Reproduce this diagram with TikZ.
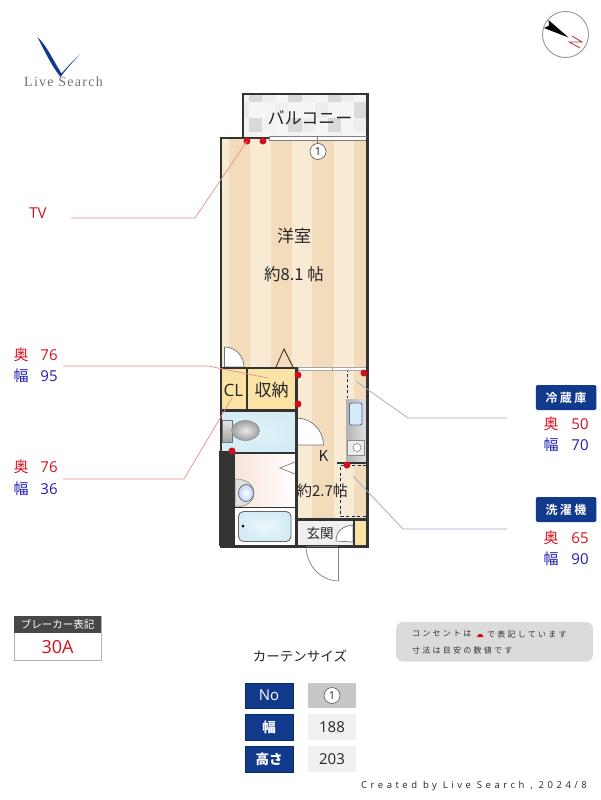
\documentclass[tikz,border=0pt]{standalone}
\usepackage{fontspec}
\setmainfont{Noto Sans CJK JP}
\newfontfamily\lat{Open Sans}
\newfontfamily\jspaced[LetterSpace=28]{Noto Sans CJK JP}
\newfontfamily\jboxed[LetterSpace=20]{Noto Sans CJK JP}[BoldFont={Noto Sans CJK JP Bold}]
\newfontfamily\foot[LetterSpace=37]{Open Sans}
\newfontfamily\logofont[LetterSpace=9]{Liberation Serif}
\definecolor{wall}{HTML}{333333}
\definecolor{stripeA}{HTML}{F3DCBC}
\definecolor{stripeB}{HTML}{F9EAD3}
\definecolor{navy}{HTML}{123A8C}
\definecolor{tred}{HTML}{D7101E}
\definecolor{tblue}{HTML}{1E1EB4}
\definecolor{dotred}{HTML}{D0101C}
\definecolor{leadred}{HTML}{E8908C}
\definecolor{leadblue}{HTML}{9AA8C0}
\definecolor{store}{HTML}{FBE3A6}
\definecolor{aqua}{HTML}{D3ECF6}
\definecolor{pinkroom}{HTML}{F8E4DA}
\tikzset{
  wallline/.style={draw=wall,line width=2.6pt},
  lab/.style={inner sep=0pt,font=\fontsize{17}{17}\selectfont,text=black!85},
  rednum/.style={inner sep=0pt,text=tred,font=\fontsize{15}{15}\selectfont},
  bluenum/.style={inner sep=0pt,text=tblue,font=\fontsize{15}{15}\selectfont},
  hdr/.style={fill=navy,rounded corners=1.5pt,text=white,inner sep=0pt,minimum width=60.5pt,minimum height=25pt,font=\jboxed\fontsize{12}{12}\selectfont\bfseries},
  cellL/.style={fill=navy,draw=navy!70!black,line width=.4pt,text=white,inner sep=0pt,minimum width=48pt,minimum height=25.5pt,font=\fontsize{13.5}{14}\selectfont\bfseries},
  cellR/.style={fill=black!6,text=black!85,inner sep=0pt,minimum width=48pt,minimum height=25.5pt,font=\fontsize{15}{15}\selectfont},
  circnum/.style={circle,draw=black!65,fill=white,line width=.6pt,minimum size=16pt,inner sep=0pt,font=\fontsize{11}{11}\selectfont,text=black!85},
  reddot/.style={fill=dotred,draw=none},
  leaderR/.style={draw=leadred,line width=.7pt},
  leaderB/.style={draw=leadblue,line width=.7pt},
  doorarc/.style={draw=black!55,fill=white,line width=.7pt},
  dashbox/.style={draw=navy!70!black,line width=1pt,dash pattern=on 3pt off 2.5pt},
  notetext/.style={anchor=west,inner sep=0pt,text=black!80,font=\jspaced\fontsize{8}{8}\selectfont},
}
\begin{document}
\begin{tikzpicture}[x=1pt,y=-1pt]
\useasboundingbox (0,0) rectangle (600,800);
\fill[white] (0,0) rectangle (600,800);

% logo
\fill[navy] (37.5,37) .. controls (47,46) and (53,60) .. (61.5,73.5) .. controls (68,66) and (74,60) .. (80,54) .. controls (74,61) and (67,68) .. (60.5,77) .. controls (51,65) and (44,50) .. (37.5,37) -- cycle;
\node[inner sep=0pt,text=black!55,font=\logofont\fontsize{14}{14}\selectfont] (logotxt) at (63.5,81.5) {Live Search};

% compass
\draw[black!45,line width=.8pt,fill=white] (565.5,34.5) circle (23);
\fill[black] (548.5,20) -- (568.5,37.5) -- (544,28) -- (549,25.5) -- cycle;
\draw[draw=red!60!black!80,line width=.8pt] (572,36) -- (582,42) -- (569,42) -- (580,48);

% balcony tiles
\fill[black!4] (243,94) rectangle (367,137);
\foreach \cx/\cw/\cy/\ch/\g in {
 249/13/94/8/15, 288/14/94/8/15, 328/13/94/8/15,
 249/13/118/14/15, 288/14/118/14/15, 328/13/118/14/15,
 354/13/102/16/14,
 262/13/94/8/7, 302/13/94/8/6, 341/13/94/8/8,
 243/6/102/16/8, 275/13/102/16/6, 315/13/102/16/7,
 262/13/118/14/5, 302/13/118/14/7, 341/13/118/14/4,
 354/13/118/14/7,
 249/13/132/5/5, 288/14/132/5/6, 328/13/132/5/5}{
  \fill[black!\g] (\cx,\cy) rectangle ++(\cw,\ch);
}
\draw[wallline] (243,138) -- (243,94) -- (367.5,94) -- (367.5,138);
\node[lab] (balcony) at (310,118) {バルコニー};

% main floor stripes
\fill[stripeB] (221,139) rectangle (366,546);
\foreach \sx/\w in {229/21,270.5/21.5,312/22,353.5/13}{
  \fill[stripeA] (\sx,139) rectangle ++(\w,407);
}

% storage and wet rooms
\fill[store] (221,369) rectangle (296,410);
\shade[inner color=aqua!70,outer color=aqua] (221,411) rectangle (296,453);
\shade[left color=pinkroom,right color=white] (235,453) rectangle (296,507);
\fill[white] (235,507) rectangle (296,546);
\fill[wall] (219,451) rectangle (235,546);
\fill[black!6] (297,520) rectangle (353,546);
\fill[store] (356,521) rectangle (366,545);

% toilet
\shade[top color=black!10,bottom color=black!35,draw=black!55,line width=.4pt] (222,420) rectangle (232,442);
\shade[inner color=black!8,outer color=black!38,draw=black!50,line width=.4pt] (245.5,430.5) ellipse (14 and 10);

% vanity
\filldraw[fill=black!12,draw=black!50,line width=.5pt] (235,479) .. controls (247,479) and (254,485) .. (254,493) .. controls (254,501) and (247,507) .. (235,507) -- cycle;
\shade[inner color=white,outer color=aqua!90!blue,draw=black!65,line width=.6pt] (246,493) ellipse (7.5 and 8.5);

% bathtub
\shade[inner color=aqua!40,outer color=aqua,draw=black!60,line width=.9pt,rounded corners=5pt] (238.5,511.5) rectangle (291,541.5);
\fill[black] (243,526) circle (1.5);

% kitchen
\shade[left color=black!30,right color=black!12] (346,399) rectangle (366,463);
\filldraw[fill=aqua,draw=black!60!blue!60,line width=.9pt,rounded corners=2pt] (349.5,403) rectangle (362,425);
\filldraw[fill=black!8,draw=black!45,line width=.5pt] (347,440.5) rectangle (364,455);
\draw[black!55,line width=.5pt,fill=white] (357,447.5) circle (4);

% dashed fridge / washer spaces
\draw[dashbox] (366,370.5) -- (347,370.5) -- (347,398);
\draw[dashbox] (366,465) -- (340.5,465) -- (340.5,516.5) -- (366,516.5);

% doors
\filldraw[doorarc] (224.5,367) -- (224.5,347) arc (-90:0:19.5 and 20) -- cycle;
\filldraw[doorarc] (296.5,445) -- (296.5,418) arc (-90:0:27 and 27) -- cycle;
\filldraw[doorarc] (353,542) -- (353,525) .. controls (343,526) and (336,531) .. (336,541) -- cycle;
\draw[draw=black!50,line width=.7pt] (338,581) -- (338,547);
\draw[draw=black!50,line width=.7pt] (338,581) .. controls (320,580) and (307,566) .. (306,547);
\draw[draw=black!60!brown,line width=.9pt] (276,367) -- (284,349) -- (293,367);
\draw[draw=black!50,line width=.7pt] (295,462) -- (280,468) -- (295,474);

% windows
\filldraw[fill=white,draw=black!50,line width=.5pt] (269,136.5) rectangle (366,140.5);
\draw[black!50,line width=.5pt] (317.5,136.5) -- (317.5,143);
\filldraw[fill=white,draw=black!35,line width=.5pt] (298,367) rectangle (366,370);
\draw[black!35,line width=.5pt] (332,367) -- (332,370);

% walls
\draw[wallline] (269,138) -- (221,138) -- (221,546.5) -- (367.5,546.5) -- (367.5,137);
\draw[draw=black!55,line width=1.5pt] (306,546.5) -- (338,546.5);
\draw[wallline] (221,368) -- (296.5,368) -- (296.5,546);
\draw[wallline] (221,410.5) -- (296.5,410.5);
\draw[wallline] (247,368) -- (247,410.5);
\draw[wallline] (221,453) -- (296.5,453);
\draw[draw=wall,line width=1.8pt] (235,507.5) -- (296.5,507.5);
\draw[wallline] (296.5,519.5) -- (367,519.5);
\draw[wallline] (337,463) -- (367,463);
\draw[draw=wall,line width=1.8pt] (354,520) -- (354,546);

% outlets
\foreach \dx/\dy in {247/141,263/141,232/451,298/375,298/404,364/373,347/465}{
  \fill[reddot] (\dx,\dy) circle (3.5);
}

% room labels
\node[circnum] (win1) at (318,151.5) {\lat 1};
\node[lab] (youshitsu) at (294,236) {洋室};
\node[lab,font=\fontsize{16.5}{17}\selectfont] (size1) at (294,274) {約8.1 帖};
\node[lab] (cl) at (233.5,390) {\lat CL};
\node[lab] (shuno) at (271.5,390) {収納};
\node[lab,font=\fontsize{15}{15}\selectfont] (k) at (323.5,456) {K};
\node[lab,font=\fontsize{15}{15}\selectfont] (size2) at (322.5,491) {約2.7帖};
\node[lab,font=\fontsize{13.5}{14}\selectfont] (genkan) at (320,533) {玄関};

% leaders
\coordinate (tvA) at (71,218);
\coordinate (tvB) at (195,218);
\coordinate (tvC) at (247,141);
\draw[leaderR] (tvA) -- (tvB) -- (tvC);
\coordinate (cnA) at (63,366);
\coordinate (cnB) at (208,366);
\coordinate (cnC) at (268,378);
\draw[leaderR] (cnA) -- (cnB) -- (cnC);
\coordinate (clA) at (63,479);
\coordinate (clB) at (184,479);
\coordinate (clC) at (232,398);
\draw[leaderR] (clA) -- (clB) -- (clC);
\coordinate (frA) at (507,418);
\coordinate (frB) at (408,418);
\coordinate (frC) at (357,382);
\draw[leaderB] (frA) -- (frB) -- (frC);
\coordinate (waA) at (507,529);
\coordinate (waB) at (403,529);
\coordinate (waC) at (353,476);
\draw[leaderB] (waA) -- (waB) -- (waC);

% left dimensions
\node[inner sep=0pt,text=tred,font=\lat\fontsize{15}{15}\selectfont] (tv) at (38,213) {TV};
\node[rednum] (o1) at (21,354.5) {奥};
\node[rednum] (o1n) at (49,355) {\lat 76};
\node[bluenum] (h1) at (21,376) {幅};
\node[bluenum] (h1n) at (49,376) {\lat 95};
\node[rednum] (o2) at (21,467) {奥};
\node[rednum] (o2n) at (49,467) {\lat 76};
\node[bluenum] (h2) at (21,489) {幅};
\node[bluenum] (h2n) at (49,489) {\lat 36};

% right dimensions
\node[hdr] (fridge) at (566,397.5) {冷蔵庫};
\node[rednum] (o3) at (551,424) {奥};
\node[rednum] (o3n) at (580,424) {\lat 50};
\node[bluenum] (h3) at (551,445) {幅};
\node[bluenum] (h3n) at (580,445) {\lat 70};
\node[hdr] (washer) at (566,509.5) {洗濯機};
\node[rednum] (o4) at (551,538) {奥};
\node[rednum] (o4n) at (580,538) {\lat 65};
\node[bluenum] (h4) at (551,559) {幅};
\node[bluenum] (h4n) at (580,559) {\lat 90};

% breaker
\filldraw[fill=white,draw=black!30,line width=.7pt] (14,616) rectangle (101,660.5);
\fill[black!72] (14,616) rectangle (101,633);
\node[inner sep=0pt,text=white,font=\fontsize{10.5}{11}\selectfont] (brk) at (57.5,624.5) {ブレーカー表記};
\node[inner sep=0pt,text=tred,font=\lat\fontsize{18}{18}\selectfont] (amp) at (57.5,647) {30A};

% note
\fill[black!14,rounded corners=7pt] (396,622) rectangle (593,661.5);
\node[notetext] (n1) at (412,634) {コンセントは};
\fill[reddot] (477,637) arc (180:360:3.2) -- cycle;
\node[notetext] (n2) at (487,634) {で表記しています};
\node[notetext] (n3) at (412,650) {寸法は目安の数値です};

% curtain table
\node[inner sep=0pt,text=black!85,font=\fontsize{13.5}{14}\selectfont] (cur) at (300,656) {カーテンサイズ};
\node[cellL,font=\lat\fontsize{15}{15}\selectfont] (noL) at (269,695.5) {No};
\node[cellR,fill=black!22] (noR) at (332,695.5) {};
\node[circnum] (noC) at (332,695.5) {\lat 1};
\node[cellL] (wL) at (269,727) {幅};
\node[cellR] (wR) at (332,727) {\lat 188};
\node[cellL] (hL) at (269,759) {高さ};
\node[cellR] (hR) at (332,759) {\lat 203};

% footer
\node[anchor=west,inner sep=0pt,text=black!85,font=\foot\fontsize{9.5}{10}\selectfont] (credit) at (361,786) {Created by Live Search , 2024/8};
\end{tikzpicture}
\end{document}
